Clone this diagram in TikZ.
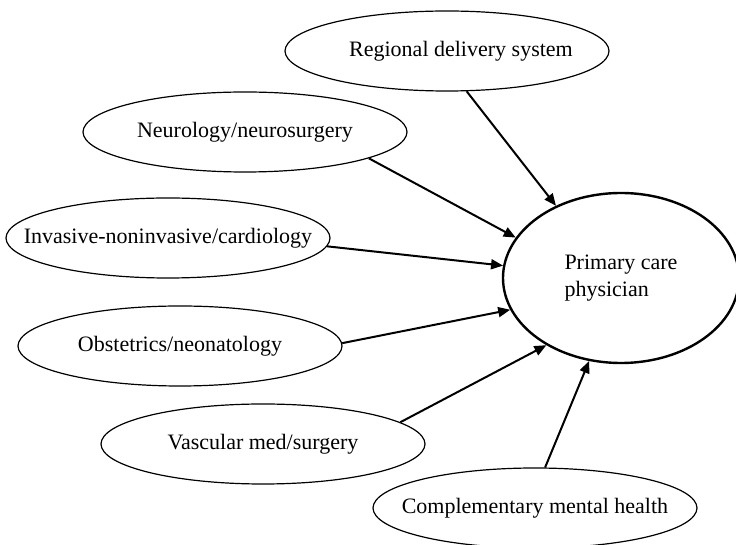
\documentclass[tikz,border=0pt]{standalone}
\usepackage{fontspec}
\setmainfont{Liberation Serif}
\usetikzlibrary{shapes.geometric,arrows.meta}
\newcommand{\zb}[1]{\makebox[0pt][c]{#1}}
\begin{document}
\begin{tikzpicture}[x=0.5pt,y=-0.5pt,
  every node/.style={font=\fontsize{11}{13.5}\selectfont},
  src/.style={ellipse,draw,line width=0.6pt,minimum width=162pt,minimum height=40pt,inner sep=0pt},
  tgt/.style={ellipse,draw,line width=1.2pt,minimum width=118pt,minimum height=85pt,inner sep=0pt,align=left},
  conn/.style={line width=1pt,-{Triangle[length=6pt,width=5pt]}}]
\useasboundingbox (0,0) rectangle (736,545);
\node[src] (reg) at (447,51) {\zb{\hspace*{14pt}Regional delivery system}};
\node[src] (neu) at (245,132) {\zb{Neurology/neurosurgery}};
\node[src] (inv) at (168,238) {\zb{Invasive-noninvasive/cardiology}};
\node[src] (obs) at (180,346) {\zb{Obstetrics/neonatology}};
\node[src] (vas) at (263,444) {\zb{Vascular med/surgery}};
\node[src] (com) at (535,508) {\zb{Complementary mental health}};
\node[tgt] (pcp) at (621,278) {Primary care\\physician};
\draw[conn] (reg.-64) -- (pcp.132.9);
\draw[conn] (neu.-12.5) -- (pcp.159.8);
\draw[conn] (inv.-3.5) -- (pcp.174.7);
\draw[conn] (obs.1.1) -- (pcp.-164.9);
\draw[conn] (vas.9.7) -- (pcp.-138.6);
\draw[conn] (com.76) -- (pcp.-111.4);
\end{tikzpicture}
\end{document}
